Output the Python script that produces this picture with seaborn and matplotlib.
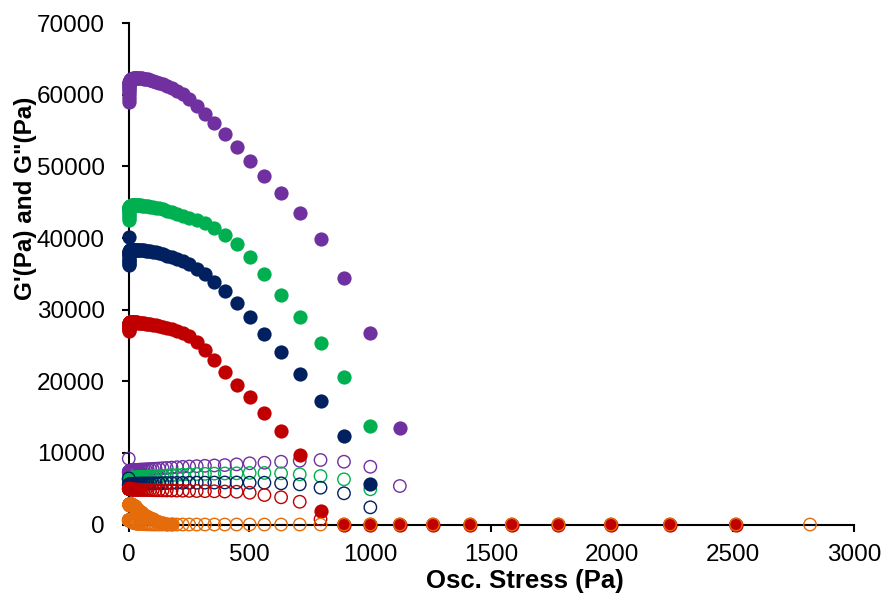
import numpy as np
import pandas as pd
import matplotlib
matplotlib.use("Agg")
import matplotlib.pyplot as plt
import seaborn as sns

# ---------------- data ----------------
STRESS = [1.00, 1.12, 1.26, 1.41, 1.58, 1.78, 2.00, 2.24, 2.51, 2.82,
          3.16, 3.55, 3.98, 4.47, 5.01, 5.62, 6.31, 7.08, 7.94, 8.91,
          10.0, 11.2, 12.6, 14.1, 15.8, 17.8, 20.0, 22.4, 25.1, 28.2,
          31.6, 35.5, 39.8, 44.7, 50.1, 56.2, 63.1, 70.8, 79.4, 89.1,
          100, 112, 126, 141, 158, 178, 200, 224, 251, 282,
          316, 355, 398, 447, 501, 562, 631, 708, 794, 891,
          1000, 1122, 1259, 1413, 1585, 1778, 1995, 2239, 2512, 2818]

PURPLE_GP = [59000, 59400, 59800, 60200, 60500, 60800, 61000, 61200, 61400, 61500,
             61600, 61700, 61800, 61850, 61900, 61950, 62000, 62050, 62100, 62100,
             62150, 62150, 62200, 62200, 62250, 62250, 62300, 62300, 62300, 62300,
             62300, 62300, 62300, 62300, 62300, 62300, 62250, 62200, 62150, 62050,
             61950, 61850, 61700, 61500, 61250, 60950, 60600, 60100, 59400, 58400,
             57330, 56030, 54500, 52720, 50810, 48630, 46260, 43460, 39870, 34470,
             26790, 13430]
PURPLE_GPP = [9200, 7300, 7300, 7300, 7320, 7340, 7360, 7380, 7400, 7410,
              7420, 7430, 7440, 7450, 7460, 7470, 7480, 7490, 7500, 7510,
              7520, 7530, 7540, 7550, 7560, 7570, 7580, 7590, 7600, 7610,
              7620, 7630, 7640, 7650, 7660, 7670, 7680, 7700, 7720, 7740,
              7760, 7790, 7820, 7860, 7900, 7950, 8000, 8050, 8100, 8150,
              8200, 8250, 8300, 8400, 8550, 8630, 8770, 8910, 9010, 8770,
              8070, 5380]

GREEN_GP = [42500, 42800, 43100, 43400, 43600, 43800, 43950, 44050, 44150, 44200,
            44250, 44300, 44350, 44400, 44400, 44450, 44450, 44500, 44500, 44500,
            44550, 44550, 44550, 44600, 44600, 44600, 44600, 44600, 44600, 44600,
            44600, 44600, 44600, 44600, 44600, 44550, 44550, 44500, 44450, 44400,
            44350, 44250, 44150, 44000, 43850, 43650, 43400, 43150, 42850, 42500,
            42050, 41400, 40500, 39180, 37320, 34940, 32050, 28940, 25310, 20640,
            13800]
GREEN_GPP = [6300, 6300, 6310, 6320, 6330, 6340, 6350, 6360, 6370, 6380,
             6390, 6400, 6410, 6420, 6430, 6440, 6450, 6460, 6470, 6480,
             6490, 6500, 6510, 6520, 6530, 6540, 6550, 6560, 6570, 6580,
             6590, 6600, 6610, 6620, 6630, 6640, 6650, 6660, 6670, 6690,
             6710, 6740, 6770, 6800, 6840, 6880, 6920, 6960, 7000, 7050,
             7080, 7110, 7130, 7150, 7200, 7200, 7150, 7010, 6770, 6310,
             4920]

NAVY_GP = [40200, 37000, 36300, 36400, 36700, 37000, 37300, 37600, 37800, 37950,
           38050, 38100, 38150, 38200, 38250, 38300, 38300, 38350, 38350, 38350,
           38400, 38400, 38400, 38400, 38400, 38400, 38400, 38400, 38400, 38400,
           38400, 38400, 38400, 38350, 38350, 38300, 38300, 38250, 38200, 38150,
           38100, 38000, 37900, 37750, 37550, 37300, 37050, 36750, 36350, 35750,
           35000, 33870, 32610, 30890, 29020, 26610, 24050, 21020, 17250, 12400,
           5610]
NAVY_GPP = [6450, 5500, 5500, 5510, 5520, 5530, 5540, 5550, 5560, 5570,
            5580, 5590, 5600, 5600, 5610, 5610, 5620, 5620, 5630, 5630,
            5640, 5640, 5650, 5650, 5660, 5660, 5670, 5670, 5680, 5680,
            5690, 5690, 5700, 5700, 5710, 5710, 5720, 5720, 5730, 5740,
            5750, 5760, 5770, 5780, 5790, 5800, 5810, 5820, 5830, 5840,
            5850, 5860, 5870, 5870, 5840, 5840, 5750, 5610, 5140, 4360,
            2400]

RED_GP = [27000, 27100, 27250, 27400, 27550, 27700, 27800, 27900, 28000, 28050,
          28100, 28150, 28200, 28200, 28250, 28250, 28250, 28300, 28300, 28300,
          28300, 28300, 28300, 28300, 28300, 28300, 28300, 28300, 28300, 28250,
          28250, 28250, 28200, 28200, 28150, 28150, 28100, 28050, 28000, 27950,
          27900, 27800, 27700, 27600, 27450, 27250, 27000, 26700, 26300, 25500,
          24400, 23000, 21300, 19500, 17760, 15530, 13060, 9700, 1930, 0,
          0, 0, 0, 0, 0, 0, 0, 0, 0]
RED_GPP = [5000, 5000, 5000, 5000, 5000, 4990, 4990, 4980, 4980, 4970,
           4970, 4960, 4960, 4950, 4950, 4940, 4940, 4930, 4930, 4920,
           4920, 4910, 4910, 4900, 4900, 4890, 4890, 4880, 4880, 4870,
           4870, 4860, 4860, 4850, 4850, 4840, 4840, 4830, 4820, 4810,
           4800, 4790, 4780, 4770, 4760, 4750, 4740, 4720, 4700, 4680,
           4660, 4640, 4610, 4580, 4440, 4120, 3800, 3180, 730, 0,
           0, 0, 0, 0, 0, 0, 0, 0, 0]

ORANGE_GP = [2750, 2800, 2800, 2800, 2800, 2800, 2800, 2800, 2800, 2800,
             2800, 2800, 2800, 2800, 2800, 2800, 2800, 2800, 2800, 2800,
             2800, 2800, 2780, 2760, 2740, 2700, 2650, 2600, 2520, 2430,
             2330, 2200, 2050, 1900, 1720, 1550, 1380, 1220, 1060, 900,
             720, 540, 380, 240, 120, 50]
ORANGE_GPP = [600, 600, 600, 600, 600, 600, 600, 600, 590, 580,
              570, 560, 550, 540, 530, 520, 500, 480, 460, 440,
              420, 400, 380, 350, 320, 290, 260, 230, 200, 170,
              150, 130, 110, 90, 70, 60, 50, 40, 30, 20,
              10, 0, 0, 0, 0, 0, 0, 0, 0, 0,
              0, 0, 0, 0, 0, 0, 0, 0, 0, 0,
              0, 0, 0, 0, 0, 0, 0, 0, 0, 0]

SERIES = [
    ("#7030A0", PURPLE_GP, PURPLE_GPP),
    ("#00B050", GREEN_GP, GREEN_GPP),
    ("#002060", NAVY_GP, NAVY_GPP),
    ("#C00000", RED_GP, RED_GPP),
    ("#E46C0A", ORANGE_GP, ORANGE_GPP),
]

XTICKS = [0, 500, 1000, 1500, 2000, 2500, 3000]
YTICKS = [0, 10000, 20000, 30000, 40000, 50000, 60000, 70000]
XLABEL = "Osc. Stress (Pa)"
YLABEL = "G'(Pa) and G\"(Pa)"

# ---------------- style ----------------
sns.set_theme(style="white")
plt.rcParams["font.family"] = ["Liberation Sans", "DejaVu Sans"]

fig = plt.figure(figsize=(8.85, 5.97), dpi=100)
ax = fig.add_axes([0.1452, 0.1214, 0.8198, 0.8396])

z = 2
for color, gp, gpp in SERIES:
    sns.scatterplot(x=STRESS[:len(gp)], y=gp, ax=ax, color=color, s=105,
                    linewidth=0, marker="o", clip_on=False, zorder=z)
    z += 1
    sns.scatterplot(x=STRESS[:len(gpp)], y=gpp, ax=ax, color=color, s=80,
                    facecolor="none", edgecolor=color, linewidth=1.0,
                    marker="o", clip_on=False, zorder=z)
    z += 1

ax.set_xlim(0, 3000)
ax.set_ylim(0, 70000)
ax.set_xticks(XTICKS)
ax.set_yticks(YTICKS)
ax.set_xticklabels([str(t) for t in XTICKS])
ax.set_yticklabels([str(t) for t in YTICKS])
ax.set_xlabel("")
ax.set_ylabel("")

for side in ["top", "right"]:
    ax.spines[side].set_visible(False)
for side in ["left", "bottom"]:
    ax.spines[side].set_color("black")
    ax.spines[side].set_linewidth(1.5)
    ax.spines[side].set_zorder(1)

ax.tick_params(axis="both", which="major", direction="out", length=5,
               width=1.5, color="black", labelcolor="black", labelsize=17.5)
ax.tick_params(axis="y", pad=12, left=True)
ax.tick_params(axis="x", pad=9, bottom=True)

fig.text(525 / 885, 1 - 581 / 597, XLABEL, ha="center", va="center",
         fontsize=18.5, fontweight="bold", color="black")
fig.text(26 / 885, 1 - 198 / 597, YLABEL, ha="center", va="center",
         rotation=90, fontsize=17.5, fontweight="bold", color="black")

fig.savefig("out.png", dpi=100)
